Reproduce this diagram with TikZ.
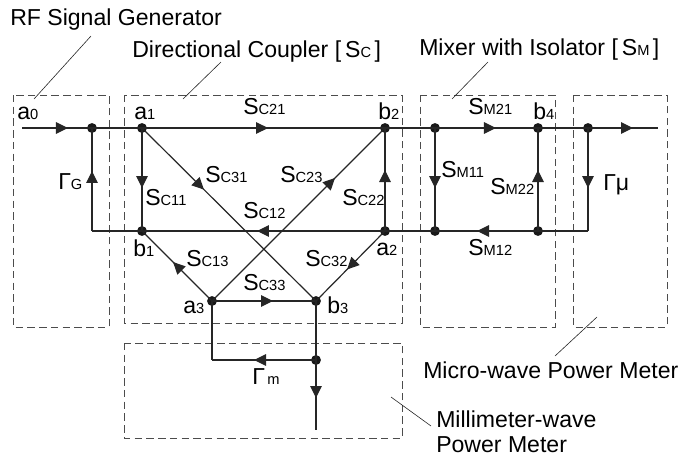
\documentclass[tikz,border=0pt]{standalone}
\usepackage{fontspec}
\setmainfont{Liberation Sans}
\usetikzlibrary{arrows.meta,decorations.markings}
\newcommand{\lab}[2]{{\fontsize{17.3pt}{19pt}\selectfont #1\fontsize{11pt}{13pt}\selectfont #2}}
\tikzset{
  x=0.75pt,y=-0.75pt,
  box/.style={draw=black!70,line width=0.6pt,dash pattern=on 5.6pt off 3.2pt},
  wire/.style={draw=black!85,line width=0.9pt},
  mid/.style={postaction={decorate,decoration={markings,mark=at position #1 with {\arrow{Triangle[length=9pt,width=8.6pt]}}}}},
  dot/.style={circle,fill=black!90,inner sep=0pt,minimum size=7.4pt},
  lbl/.style={anchor=base west,inner sep=0pt},
  lead/.style={draw=black!85,line width=0.45pt}
}
\begin{document}
\begin{tikzpicture}
\useasboundingbox (0,0) rectangle (683,457);
% boxes
\draw[box] (13,95) rectangle (109,327);
\draw[box] (124,95) rectangle (402,323);
\draw[box] (420,95) rectangle (555,327);
\draw[box] (573,95) rectangle (667,327);
\draw[box] (124,343) rectangle (402,438);
% nodes
\coordinate (start) at (22,128);
\node[dot] (j0) at (92,128) {};
\node[dot] (a1) at (142,128) {};
\node[dot] (b2) at (385,128) {};
\node[dot] (j1) at (435,128) {};
\node[dot] (b4) at (538,128) {};
\node[dot] (j2) at (588,128) {};
\coordinate (stop) at (658,128);
\coordinate (c0) at (92,231);
\node[dot] (b1) at (142,231) {};
\node[dot] (a2) at (385,231) {};
\node[dot] (j3) at (435,231) {};
\node[dot] (j4) at (538,231) {};
\coordinate (c1) at (588,231);
\node[dot] (a3) at (212,301) {};
\node[dot] (b3) at (316,301) {};
\coordinate (c2) at (212,360);
\node[dot] (j5) at (316,360) {};
\coordinate (stop2) at (316,430);
% wires
\draw[wire,mid=0.657] (start) -- (j0.center);
\draw[wire] (j0.center) -- (a1.center);
\draw[wire,mid=0.519] (a1.center) -- (b2.center);
\draw[wire] (b2.center) -- (j1.center);
\draw[wire,mid=0.592] (j1.center) -- (b4.center);
\draw[wire] (b4.center) -- (j2.center);
\draw[wire,mid=0.643] (j2.center) -- (stop);
\draw[wire,mid=0.583] (a1.center) -- (b1.center);
\draw[wire,mid=0.583] (c0) -- (j0.center);
\draw[wire,mid=0.356] (a1.center) -- (b3.center);
\draw[wire,mid=0.711] (a3.center) -- (b2.center);
\draw[wire,mid=0.527] (a2.center) -- (b1.center);
\draw[wire] (b1.center) -- (c0);
\draw[wire,mid=0.557] (a3.center) -- (b1.center);
\draw[wire,mid=0.587] (a3.center) -- (b3.center);
\draw[wire,mid=0.55] (a2.center) -- (b3.center);
\draw[wire,mid=0.592] (a2.center) -- (b2.center);
\draw[wire] (j3.center) -- (a2.center);
\draw[wire,mid=0.583] (j1.center) -- (j3.center);
\draw[wire,mid=0.592] (j4.center) -- (b4.center);
\draw[wire,mid=0.592] (j4.center) -- (j3.center);
\draw[wire] (c1) -- (j4.center);
\draw[wire,mid=0.583] (j2.center) -- (c1);
\draw[wire] (a3.center) -- (c2);
\draw[wire] (b3.center) -- (j5.center);
\draw[wire,mid=0.596] (j5.center) -- (c2);
\draw[wire,mid=0.543] (j5.center) -- (stop2);
% leaders
\coordinate (l1a) at (91,36); \coordinate (l1b) at (34,99);
\coordinate (l2a) at (221,62); \coordinate (l2b) at (183,99);
\coordinate (l3a) at (488,62); \coordinate (l3b) at (452,99);
\coordinate (l4a) at (597,317); \coordinate (l4b) at (555,356);
\coordinate (l5a) at (391,397); \coordinate (l5b) at (431,426);
\foreach \p/\q in {l1a/l1b,l2a/l2b,l3a/l3b,l4a/l4b,l5a/l5b} \draw[lead] (\p) -- (\q);
% labels
\node[lbl] (t1) at (10,25) {\lab{RF Signal Generator}{}};
\node[lbl] (t2) at (132,57) {\lab{Directional Coupler [\hspace{3pt}S}{C}\lab{\hspace{2.5pt}]}{}};
\node[lbl] (t3) at (419,55) {\lab{Mixer with Isolator [\hspace{3pt}S}{M}\lab{\hspace{2.5pt}]}{}};
\node[lbl] (t4) at (423,378) {\lab{Micro-wave Power Meter}{}};
\node[lbl] (t5) at (436,427) {\lab{Millimeter-wave}{}};
\node[lbl] (t6) at (436,452) {\lab{Power Meter}{}};
\node[lbl] (n1) at (17,119) {\lab{a}{0}};
\node[lbl] (n2) at (134,119) {\lab{a}{1}};
\node[lbl] (n3) at (378,119) {\lab{b}{2}};
\node[lbl] (n4) at (533,119) {\lab{b}{4}};
\node[lbl] (n5) at (133,256) {\lab{b}{1}};
\node[lbl] (n6) at (376,255) {\lab{a}{2}};
\node[lbl] (n7) at (183,313) {\lab{a}{3}};
\node[lbl] (n8) at (327,313) {\lab{b}{3}};
\node[lbl] (s1) at (243,114) {\lab{S}{C21}};
\node[lbl] (s2) at (205,182) {\lab{S}{C31}};
\node[lbl] (s3) at (280,182) {\lab{S}{C23}};
\node[lbl] (s4) at (145,205) {\lab{S}{C11}};
\node[lbl] (s5) at (243,218) {\lab{S}{C12}};
\node[lbl] (s6) at (186,266) {\lab{S}{C13}};
\node[lbl] (s7) at (243,290) {\lab{S}{C33}};
\node[lbl] (s8) at (305,266) {\lab{S}{C32}};
\node[lbl] (s9) at (342,205) {\lab{S}{C22}};
\node[lbl] (m1) at (468,114) {\lab{S}{M21}};
\node[lbl] (m2) at (441,177) {\lab{S}{M11}};
\node[lbl] (m3) at (490,194) {\lab{S}{M22}};
\node[lbl] (m4) at (468,255) {\lab{S}{M12}};
\node[lbl] (g1) at (58,189) {\lab{Γ}{G}};
\node[lbl] (g2) at (603,190) {\lab{Γμ}{}};
\node[lbl] (g3) at (252,384) {\lab{Γ}{\,m}};
\end{tikzpicture}
\end{document}
